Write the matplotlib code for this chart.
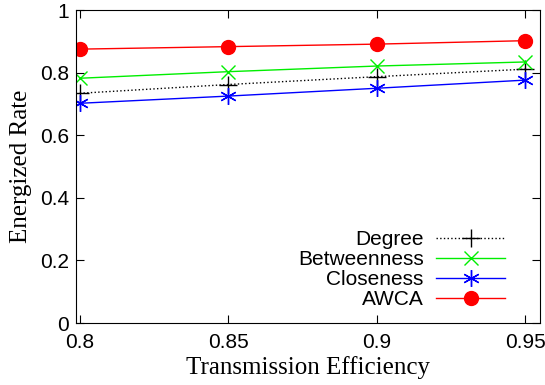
import matplotlib.pyplot as plt

efficiency = [0.8, 0.85, 0.9, 0.95]
degree = [0.734, 0.762, 0.787, 0.811]
betweenness = [0.782, 0.803, 0.821, 0.834]
closeness = [0.702, 0.725, 0.750, 0.776]
awca = [0.875, 0.883, 0.891, 0.902]
xticks = [0.8, 0.85, 0.9, 0.95]
yticks = [0, 0.2, 0.4, 0.6, 0.8, 1]

fig = plt.figure(figsize=(5.45, 3.85), dpi=100)
ax = fig.add_axes([0.1394, 0.161, 0.8514, 0.813])

ax.plot(efficiency, degree, color='black', linestyle=':', linewidth=1,
        marker='+', markersize=13, markeredgewidth=1, label='Degree')
ax.plot(efficiency, betweenness, color='#00ee00', linewidth=1,
        marker='x', markersize=10, markeredgewidth=1, label='Betweenness')
ax.plot(efficiency, closeness, color='blue', linewidth=1,
        marker=(6, 2, 0), markersize=12, markeredgewidth=1, label='Closeness')
ax.plot(efficiency, awca, color='red', linewidth=1,
        marker='o', markersize=10, label='AWCA')

ax.set_xlim(0.7987, 0.955)
ax.set_ylim(0, 1)
ax.set_xticks(xticks)
ax.set_xticklabels([str(t) for t in xticks])
ax.set_yticks(yticks)
ax.set_yticklabels([str(t) for t in yticks])
ax.tick_params(direction='in', top=True, right=True, length=6, labelsize=15)
ax.tick_params(axis='x', pad=7)
ax.tick_params(axis='y', pad=5)
for lab in ax.get_xticklabels() + ax.get_yticklabels():
    lab.set_family('Liberation Sans')

ax.set_xlabel('Transmission Efficiency', family='Liberation Serif', fontsize=18, labelpad=3)
ax.set_ylabel('Energized Rate', family='Liberation Serif', fontsize=18, labelpad=6)

leg = ax.legend(loc='lower right', bbox_to_anchor=(0.9246, 0.045), markerfirst=False,
                frameon=False, prop={'family': 'Liberation Sans', 'size': 15},
                handlelength=3.3, handletextpad=0.6, labelspacing=0.05,
                borderpad=0, borderaxespad=0)
for t in leg.get_texts():
    t.set_ha('right')

fig.savefig('out.png')
